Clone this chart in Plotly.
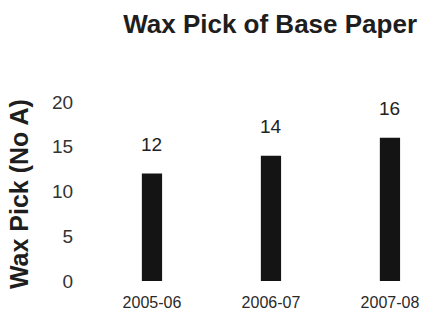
import plotly.graph_objects as go

categories = ["2005-06", "2006-07", "2007-08"]
values = [12, 14, 16]
y_ticks = [0, 5, 10, 15, 20]

FONT = "Liberation Sans, Arial, sans-serif"
x_pos = list(range(len(categories)))

fig = go.Figure()
fig.add_trace(go.Bar(
    x=x_pos, y=values, width=0.17,
    marker=dict(color="#141414", line=dict(width=0)),
    hoverinfo="skip",
))

for xi, v in zip(x_pos, values):
    fig.add_annotation(
        x=xi, y=v, xref="x", yref="y", text=str(v), showarrow=False,
        yanchor="bottom", yshift=17,
        font=dict(family=FONT, size=19, color="#222222"),
    )

fig.add_annotation(
    x=-0.184, y=0.486, xref="paper", yref="paper",
    text="<b>Wax Pick (No A)</b>", textangle=-90, showarrow=False,
    xanchor="center", yanchor="middle",
    font=dict(family=FONT, size=25, color="#1e1e1e"),
)

fig.update_layout(
    width=424, height=328,
    margin=dict(l=82, r=0, t=102, b=47),
    paper_bgcolor="white", plot_bgcolor="white",
    showlegend=False,
    title=dict(
        text="<b>Wax Pick of Base Paper</b>",
        x=0.55, xref="paper", xanchor="center",
        y=0.928, yref="container", yanchor="middle",
        font=dict(family=FONT, size=26, color="#1e1e1e"),
    ),
    xaxis=dict(
        range=[-0.588, 2.286], tickvals=x_pos, ticktext=categories,
        showgrid=False, zeroline=False, showline=False,
        ticks="outside", ticklen=7, tickcolor="rgba(0,0,0,0)",
        tickfont=dict(family=FONT, size=16, color="#2a2a2a"),
        fixedrange=True,
    ),
    yaxis=dict(
        range=[0, 20], tickvals=y_ticks,
        showgrid=False, zeroline=False, showline=False,
        ticks="outside", ticklen=4, tickcolor="rgba(0,0,0,0)",
        tickfont=dict(family=FONT, size=19, color="#333333"),
        fixedrange=True,
    ),
)

fig.write_html("out.html", config={"displayModeBar": False})
